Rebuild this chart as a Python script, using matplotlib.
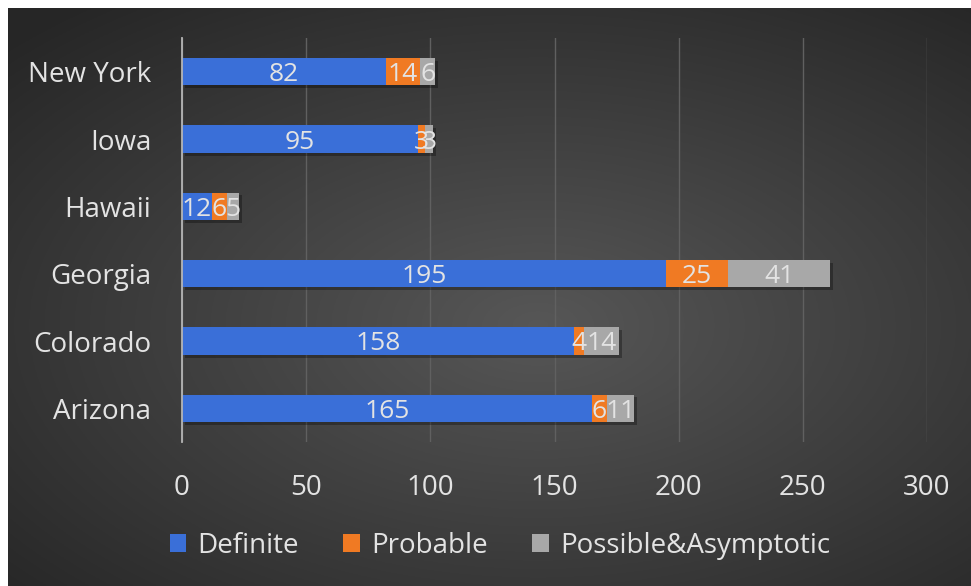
import matplotlib
matplotlib.use('Agg')

import matplotlib.pyplot as plt
import matplotlib.patheffects as pe
import numpy as np

# data
states = ["Arizona", "Colorado", "Georgia", "Hawaii", "Iowa", "New York"]
definite = [165, 158, 195, 12, 95, 82]
probable = [6, 4, 25, 6, 3, 14]
possible = [11, 14, 41, 5, 3, 6]
series_names = ["Definite", "Probable", "Possible&Asymptotic"]
x_ticks = [0, 50, 100, 150, 200, 250, 300]

COLORS = {
    "definite": "#3a6fd8",
    "probable": "#f07a23",
    "possible": "#a8a8a8",
    "text": "#e3e3e3",
    "grid": "#606060",
    "axis": "#b5b5b5",
}

plt.rcParams['font.family'] = ['Open Sans', 'DejaVu Sans']

W, H = 971, 586
fig = plt.figure(figsize=(W / 100, H / 100), dpi=100, facecolor='white')

# radial gradient background (dark panel, white margin on left/top)
bg = fig.add_axes([8 / W, 0, 1 - 8 / W, 1 - 8 / H])
yy, xx = np.mgrid[0:1:300j, 0:1:500j]
r = np.sqrt(((xx - 0.55) / 0.8) ** 2 + ((yy - 0.55) / 0.75) ** 2)
shade = np.clip(0.34 - 0.2 * r, 0.15, 0.34)
bg.imshow(np.dstack([shade, shade, shade]), aspect='auto', extent=[0, 1, 0, 1])
bg.set_axis_off()

ax = fig.add_axes([182 / W, 1 - 442 / H, (927 - 182) / W, (442 - 38) / H])
ax.patch.set_alpha(0)

y = np.arange(len(states))
bar_h = 0.41
shadow = [pe.SimplePatchShadow(offset=(2, -2), shadow_rgbFace='black', alpha=0.3), pe.Normal()]

left = np.zeros(len(states))
handles = []
for vals, key, name in zip([definite, probable, possible],
                           ["definite", "probable", "possible"], series_names):
    bars = ax.barh(y, vals, left=left, height=bar_h, color=COLORS[key],
                   label=name, zorder=3)
    for b in bars:
        b.set_path_effects(shadow)
    texts = ax.bar_label(bars, labels=[str(v) for v in vals], label_type='center',
                         color=COLORS["text"], fontsize=19, zorder=4)
    for t in texts:
        t.set_va('center_baseline')
    handles.append(bars)
    left += np.array(vals)

ax.set_xlim(0, 300)
ax.set_ylim(-0.5, len(states) - 0.5)
ax.set_xticks(x_ticks)
ax.set_yticks(y)
ax.set_yticklabels(states)
ax.grid(True, axis='x', color=COLORS["grid"], linewidth=1, zorder=0)
ax.set_axisbelow(True)

for side in ['top', 'right', 'bottom']:
    ax.spines[side].set_visible(False)
ax.spines['left'].set_color(COLORS["axis"])
ax.spines['left'].set_linewidth(1.3)
ax.spines['left'].set_zorder(5)

ax.tick_params(axis='y', length=0, pad=22, labelsize=20, labelcolor=COLORS["text"])
ax.tick_params(axis='x', length=0, pad=23, labelsize=20, labelcolor=COLORS["text"])

leg = fig.legend(handles=handles, labels=series_names, loc='center',
                 bbox_to_anchor=(500 / W, 1 - 546 / H), ncol=3, frameon=False,
                 fontsize=20, handlelength=0.6, handleheight=0.6,
                 handletextpad=0.4, columnspacing=1.6)
for t in leg.get_texts():
    t.set_color(COLORS["text"])
for h in leg.legend_handles:
    h.set_path_effects([])

fig.savefig('out.png', dpi=100, facecolor='white')
plt.close(fig)
